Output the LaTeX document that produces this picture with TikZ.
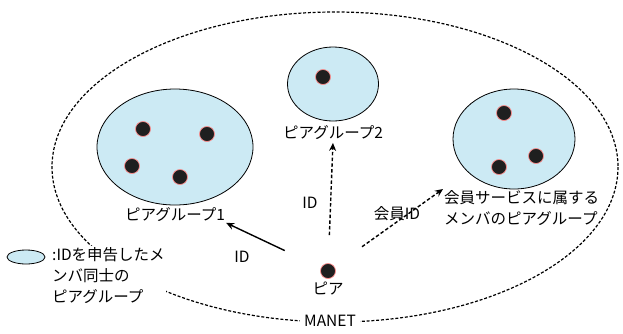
\documentclass[tikz,border=0pt]{standalone}
\usepackage{fontspec}
\setmainfont{Noto Sans CJK JP}
\usetikzlibrary{shapes.geometric, arrows.meta, positioning}
\definecolor{groupblue}{RGB}{204,234,244}

\begin{document}
\begin{tikzpicture}[x=1pt, y=-1pt,
  group/.style={ellipse, draw, fill=groupblue, inner sep=0pt, line width=0.8pt},
  peer/.style={circle, draw=red!45, fill=black!88, minimum size=15pt, inner sep=0pt, line width=0.7pt},
  lbl/.style={font=\fontsize{15.5}{21}\selectfont, inner sep=1pt, align=left},
  link/.style={line width=1.4pt, -{Stealth[length=8pt,width=7pt]}},
  dlink/.style={link, dash pattern=on 3.5pt off 2.2pt}
]
  \useasboundingbox (0,0) rectangle (623,333);
  \fill[white] (0,0) rectangle (623,333);

  % MANET
  \draw[line width=1.2pt, dash pattern=on 3pt off 1.8pt] (335,167) ellipse [x radius=283, y radius=155];
  \node[lbl, fill=white, inner xsep=4pt] (manet) at (330,321) {MANET};

  % peer groups
  \node[group, minimum width=156pt, minimum height=116pt] (grp1) at (175,147) {};
  \node[peer] (p11) at (143,129) {};
  \node[peer] (p12) at (207,134) {};
  \node[peer] (p13) at (132,166) {};
  \node[peer] (p14) at (180,177) {};
  \node[lbl, below=1pt of grp1] (lbl1) {ピアグループ1};

  \node[group, minimum width=91pt, minimum height=74pt] (grp2) at (333,84) {};
  \node[peer] (p21) at (323,77) {};
  \node[lbl, below=3pt of grp2] (lbl2) {ピアグループ2};

  \node[group, minimum width=122pt, minimum height=100pt] (grp3) at (514,139) {};
  \node[peer] (p31) at (504,113) {};
  \node[peer] (p32) at (536,156) {};
  \node[peer] (p33) at (499,167) {};
  \node[lbl, anchor=north west] (lbl3) at (443,189) {会員サービスに属する\\メンバのピアグループ};

  % the peer
  \node[peer] (me) at (328,271) {};
  \node[lbl, below=2pt of me] (melbl) {ピア};

  \draw[link, shorten <=40pt] (me) -- (lbl1.south east);
  \draw[dlink, shorten <=28pt, shorten >=2pt] (me) -- (lbl2.south);
  \draw[dlink, shorten <=34pt] (me) -- (lbl3.north west);
  \node[lbl] (id1) at (242,257) {ID};
  \node[lbl] (id2) at (310,203) {ID};
  \node[lbl] (id3) at (397,214) {会員ID};

  % legend
  \node[group, minimum width=38pt, minimum height=14pt] (key) at (26,257) {};
  \node[lbl, fill=white, anchor=north west] (keylbl) at (51,246) {:IDを申告したメ\\ンバ同士の\\ピアグループ};
\end{tikzpicture}
\end{document}
